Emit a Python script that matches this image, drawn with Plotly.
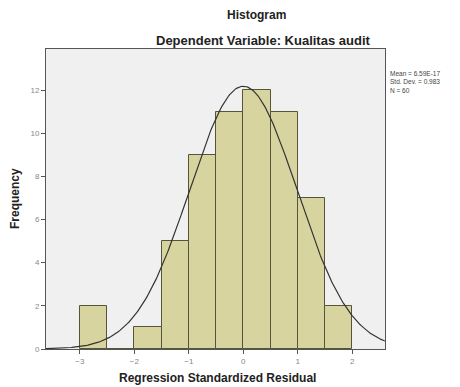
import numpy as np
import plotly.graph_objects as go

bin_edges = [-3.0, -2.5, -2.0, -1.5, -1.0, -0.5, 0.0, 0.5, 1.0, 1.5, 2.0]
frequencies = [2, 0, 1, 5, 9, 11, 12, 11, 7, 2]
mean_val = 0.0
std_dev = 0.983
n_obs = 60
x_ticks = [-3, -2, -1, 0, 1, 2]
y_ticks = [0, 2, 4, 6, 8, 10, 12]

centers = [(bin_edges[i] + bin_edges[i + 1]) / 2 for i in range(len(frequencies))]
width = bin_edges[1] - bin_edges[0]

fig = go.Figure()
fig.add_trace(go.Bar(
    x=centers, y=frequencies, width=width,
    marker=dict(color="#d8d4a0", line=dict(color="#55553a", width=1)),
    hoverinfo="x+y",
))

xs = np.linspace(-3.62, 2.6, 300)
ys = n_obs * width / (std_dev * np.sqrt(2 * np.pi)) * np.exp(-0.5 * ((xs - mean_val) / std_dev) ** 2)
fig.add_trace(go.Scatter(x=xs, y=ys, mode="lines", line=dict(color="#333333", width=1.2), hoverinfo="skip"))

fig.update_layout(
    width=452, height=379,
    margin=dict(l=38, r=75, t=41, b=38),
    paper_bgcolor="white", plot_bgcolor="#f0f0f0",
    showlegend=False, bargap=0,
    font=dict(family="Arial, Liberation Sans, sans-serif", color="#222"),
    xaxis=dict(range=[-3.62, 2.6], tickvals=x_ticks, ticks="outside", ticklen=4,
               tickcolor="#555", tickfont=dict(size=8, color="#888"),
               showgrid=False, zeroline=False, showline=True, linecolor="#555", linewidth=1, mirror=True),
    yaxis=dict(range=[0, 13.9], tickvals=y_ticks, ticks="outside", ticklen=4,
               tickcolor="#555", tickfont=dict(size=8, color="#888"),
               showgrid=False, zeroline=False, showline=True, linecolor="#555", linewidth=1, mirror=True),
    annotations=[
        dict(text="<b>Histogram</b>", xref="paper", yref="paper", x=0.622, y=1.0, yshift=34,
             xanchor="center", yanchor="middle",
             showarrow=False, font=dict(size=12, color="#222")),
        dict(text="<b>Dependent Variable: Kualitas audit</b>", xref="paper", yref="paper", x=0.64, y=1.0, yshift=9,
             xanchor="center", yanchor="middle",
             showarrow=False, font=dict(size=13, color="#222")),
        dict(text="<b>Regression Standardized Residual</b>", xref="paper", yref="paper", x=0.505, y=0, yshift=-29,
             xanchor="center", yanchor="middle",
             showarrow=False, font=dict(size=12, color="#222")),
        dict(text="<b>Frequency</b>", xref="paper", yref="paper", x=0, xshift=-31, y=0.5,
             xanchor="center", yanchor="middle",
             textangle=-90, showarrow=False, font=dict(size=12, color="#222")),
        dict(text="Mean = 6.59E-17<br>Std. Dev. = 0.983<br>N = 60", xref="paper", yref="paper",
             x=1.0, xshift=3, y=0.935, xanchor="left", yanchor="top", align="left",
             showarrow=False, font=dict(size=6.5, color="#444")),
    ],
)

fig.write_html("out.html")
